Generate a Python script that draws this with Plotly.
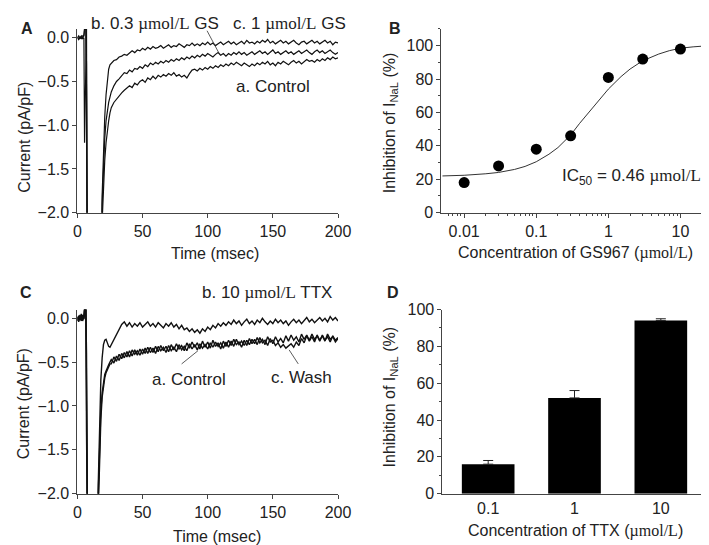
import plotly.graph_objects as go

# ---- Panel A: late Na current traces (GS967) ----
T_A_EARLY = [0, 1, 2, 3, 4, 5, 5.5, 6.5, 7, 7.5, 8, 12, 18, 19, 20, 21, 22, 23, 24, 25]
T_MAIN = list(range(26, 201, 2))

a_ctrl_early = [0.0, -0.02, 0.01, -0.01, 0.0, 0.02, 0.1, 0.1, -0.6, -3, -3, -3, -3, -2.1, -1.7, -1.4, -1.2, -1.05, -0.95, -0.86]
a_gs03_early = [0.01, -0.01, 0.0, 0.02, -0.01, 0.0, -1.2, 0.1, 0.1, -3, -3, -3, -3, -1.9, -1.5, -1.15, -0.95, -0.82, -0.74, -0.68]
a_gs1_early = [0.0, 0.02, -0.01, 0.01, 0.02, 0.03, 0.1, 0.1, -0.3, -3, -3, -3, -3, -1.8, -1.3, -0.9, -0.65, -0.45, -0.36, -0.31]

a_ctrl = [-0.80, -0.74, -0.70, -0.66, -0.63, -0.60, -0.58, -0.55, -0.57, -0.52, -0.54,
          -0.50, -0.48, -0.51, -0.46, -0.48, -0.44, -0.47, -0.43, -0.45, -0.42, -0.44,
          -0.41, -0.43, -0.40, -0.44, -0.42, -0.45, -0.43, -0.46, -0.41, -0.37, -0.36,
          -0.38, -0.35, -0.37, -0.34, -0.36, -0.33, -0.35, -0.32, -0.34, -0.31, -0.33,
          -0.30, -0.32, -0.29, -0.31, -0.28, -0.30, -0.32, -0.29, -0.31, -0.33, -0.30,
          -0.32, -0.29, -0.31, -0.28, -0.30, -0.27, -0.31, -0.29, -0.32, -0.28, -0.30,
          -0.27, -0.29, -0.31, -0.28, -0.26, -0.29, -0.27, -0.30, -0.28, -0.25, -0.27,
          -0.26, -0.28, -0.25, -0.27, -0.24, -0.26, -0.23, -0.25, -0.22, -0.24, -0.23]
a_gs03 = [-0.62, -0.55, -0.50, -0.47, -0.44, -0.40, -0.41, -0.37, -0.39, -0.35, -0.36,
          -0.33, -0.35, -0.31, -0.33, -0.29, -0.31, -0.28, -0.30, -0.27, -0.29, -0.26,
          -0.28, -0.25, -0.27, -0.24, -0.26, -0.23, -0.25, -0.22, -0.24, -0.21, -0.23,
          -0.20, -0.22, -0.19, -0.21, -0.18, -0.20, -0.22, -0.19, -0.17, -0.20, -0.18,
          -0.21, -0.18, -0.20, -0.17, -0.19, -0.16, -0.19, -0.17, -0.20, -0.18, -0.16,
          -0.19, -0.17, -0.15, -0.18, -0.16, -0.19, -0.17, -0.14, -0.18, -0.16, -0.19,
          -0.17, -0.15, -0.18, -0.16, -0.19, -0.17, -0.15, -0.18, -0.16, -0.14, -0.17,
          -0.19, -0.16, -0.14, -0.17, -0.15, -0.18, -0.16, -0.14, -0.17, -0.19, -0.17]
a_gs1 = [-0.29, -0.26, -0.25, -0.22, -0.21, -0.19, -0.20, -0.17, -0.15, -0.17, -0.14,
         -0.15, -0.12, -0.14, -0.11, -0.13, -0.10, -0.12, -0.11, -0.09, -0.12, -0.10,
         -0.08, -0.11, -0.09, -0.10, -0.07, -0.09, -0.11, -0.08, -0.09, -0.06, -0.09,
         -0.07, -0.09, -0.06, -0.08, -0.05, -0.08, -0.06, -0.09, -0.07, -0.05, -0.08,
         -0.06, -0.04, -0.07, -0.05, -0.08, -0.06, -0.04, -0.07, -0.03, -0.06, -0.05,
         -0.07, -0.04, -0.06, -0.03, -0.05, -0.02, -0.06, -0.04, -0.07, -0.05, -0.03,
         -0.06, -0.04, -0.07, -0.05, -0.03, -0.06, -0.08, -0.05, -0.04, -0.07, -0.05,
         -0.03, -0.06, -0.04, -0.07, -0.05, -0.03, -0.06, -0.04, -0.08, -0.05, -0.06]

# ---- Panel B: concentration-response for GS967 ----
gs_conc = [0.01, 0.03, 0.1, 0.3, 1, 3, 10]
gs_inhib = [18, 28, 38, 46, 81, 92, 98]
gs_err = [2, 2, 2, 2, 2, 3, 1.5]
fit_conc = [0.005, 0.01, 0.02, 0.03, 0.05, 0.07, 0.1, 0.15, 0.2, 0.3, 0.4, 0.5, 0.7, 1, 1.5, 2, 3, 5, 7, 10, 15, 20]
fit_inhib = [22.0, 22.4, 23.3, 24.1, 25.9, 27.7, 30.5, 35.0, 39.0, 46.5, 53.5, 58.5, 66.0, 74.0, 81.5, 86.0, 91.0, 95.0, 97.0, 98.5, 99.3, 99.7]

# ---- Panel C: late Na current traces (TTX) ----
T_C_EARLY = [0, 1, 2, 3, 4, 5, 5.5, 6.5, 7, 7.5, 8, 12, 15, 16, 17, 18, 19, 20, 21, 22, 23, 24, 25]

c_ttx_early = [0.02, -0.03, 0.04, -0.02, 0.03, 0.0, 0.1, 0.1, -0.4, -3, -3, -3, -3, -1.9, -1.2, -0.7, -0.45, -0.3, -0.25, -0.24, -0.28, -0.32, -0.33]
c_ctrl_early = [-0.03, 0.03, -0.02, 0.05, -0.03, 0.02, 0.1, 0.1, -1.3, -3, -3, -3, -3, -2.2, -1.6, -1.15, -0.9, -0.75, -0.68, -0.62, -0.58, -0.55, -0.52]
c_wash_early = [0.01, -0.04, 0.03, -0.03, 0.04, -0.01, 0.1, 0.1, -0.8, -3, -3, -3, -3, -2.0, -1.5, -1.05, -0.85, -0.72, -0.64, -0.6, -0.55, -0.53, -0.5]

c_ttx = [-0.30, -0.24, -0.18, -0.12, -0.07, -0.04, -0.09, -0.05, -0.10, -0.06, -0.09,
         -0.05, -0.10, -0.07, -0.04, -0.09, -0.06, -0.10, -0.05, -0.08, -0.11, -0.06,
         -0.09, -0.05, -0.10, -0.07, -0.12, -0.08, -0.13, -0.11, -0.15, -0.12, -0.16,
         -0.13, -0.17, -0.12, -0.15, -0.10, -0.13, -0.08, -0.11, -0.06, -0.09, -0.05,
         -0.08, -0.04, -0.07, -0.02, -0.06, -0.03, -0.08, -0.04, -0.01, -0.06, -0.03,
         -0.07, -0.02, -0.05, 0.00, -0.04, -0.07, -0.03, -0.06, -0.01, -0.05, -0.02,
         -0.06, -0.03, -0.08, -0.04, -0.01, -0.05, -0.02, -0.06, -0.03, 0.01, -0.04,
         -0.01, -0.05, -0.02, 0.01, -0.03, 0.00, -0.04, 0.02, -0.02, 0.01, -0.03]
c_ctrl = [-0.52, -0.44, -0.49, -0.41, -0.46, -0.39, -0.44, -0.37, -0.43, -0.36, -0.42,
          -0.35, -0.41, -0.34, -0.40, -0.33, -0.39, -0.32, -0.38, -0.31, -0.37, -0.32,
          -0.38, -0.30, -0.36, -0.29, -0.35, -0.31, -0.37, -0.28, -0.34, -0.27, -0.33,
          -0.28, -0.35, -0.26, -0.33, -0.27, -0.34, -0.25, -0.32, -0.28, -0.35, -0.26,
          -0.32, -0.25, -0.31, -0.24, -0.30, -0.27, -0.33, -0.25, -0.31, -0.23, -0.29,
          -0.24, -0.30, -0.22, -0.28, -0.25, -0.31, -0.23, -0.29, -0.21, -0.27, -0.23,
          -0.28, -0.20, -0.26, -0.19, -0.25, -0.21, -0.27, -0.18, -0.24, -0.19, -0.25,
          -0.18, -0.24, -0.20, -0.26, -0.19, -0.25, -0.21, -0.27, -0.20, -0.25, -0.22]
c_wash = [-0.47, -0.51, -0.43, -0.48, -0.40, -0.45, -0.38, -0.44, -0.36, -0.41, -0.37,
          -0.42, -0.35, -0.40, -0.33, -0.39, -0.34, -0.40, -0.32, -0.37, -0.33, -0.39,
          -0.31, -0.37, -0.33, -0.38, -0.30, -0.36, -0.32, -0.37, -0.29, -0.35, -0.30,
          -0.36, -0.29, -0.34, -0.30, -0.35, -0.28, -0.33, -0.27, -0.32, -0.28, -0.34,
          -0.27, -0.33, -0.26, -0.32, -0.24, -0.30, -0.26, -0.31, -0.25, -0.30, -0.24,
          -0.29, -0.22, -0.28, -0.24, -0.30, -0.21, -0.27, -0.25, -0.31, -0.28, -0.33,
          -0.30, -0.34, -0.31, -0.29, -0.33, -0.27, -0.31, -0.23, -0.28, -0.20, -0.26,
          -0.21, -0.27, -0.19, -0.25, -0.20, -0.26, -0.18, -0.24, -0.21, -0.27, -0.23]

# ---- Panel D: TTX bars ----
ttx_conc = ["0.1", "1", "10"]
ttx_inhib = [16, 52, 94]
ttx_err = [2, 4, 1]

FONT = "Liberation Sans, Arial, sans-serif"
SERIF = "font-family:Liberation Serif"
UMOL = f"<span style='{SERIF}'>µmol/L</span>"
AX = "#444"
TXT = "#222"
FS = 16

fig = go.Figure()

trace_line = dict(color="#111", width=1.2)
for early, main in [(a_ctrl_early, a_ctrl), (a_gs03_early, a_gs03), (a_gs1_early, a_gs1)]:
    fig.add_trace(go.Scatter(x=T_A_EARLY + T_MAIN, y=early + main, mode="lines",
                             line=trace_line, xaxis="x", yaxis="y", showlegend=False))

fig.add_trace(go.Scatter(x=fit_conc, y=fit_inhib, mode="lines", line=dict(color="#333", width=1),
                         xaxis="x2", yaxis="y2", showlegend=False))
fig.add_trace(go.Scatter(x=gs_conc, y=gs_inhib, mode="markers",
                         marker=dict(color="black", size=11),
                         error_y=dict(type="data", array=gs_err, color="#222", thickness=1, width=0),
                         xaxis="x2", yaxis="y2", showlegend=False))

for early, main in [(c_ctrl_early, c_ctrl), (c_wash_early, c_wash), (c_ttx_early, c_ttx)]:
    fig.add_trace(go.Scatter(x=T_C_EARLY + T_MAIN, y=early + main, mode="lines",
                             line=dict(color="#111", width=1.4), xaxis="x3", yaxis="y3", showlegend=False))

fig.add_trace(go.Bar(x=ttx_conc, y=ttx_inhib, width=0.61, marker=dict(color="black", line=dict(width=0)),
                     error_y=dict(type="data", array=ttx_err, symmetric=False, arrayminus=[0, 0, 0],
                                  color="#222", thickness=1, width=5),
                     xaxis="x4", yaxis="y4", showlegend=False))

axis_common = dict(showline=True, linecolor=AX, linewidth=1, ticks="outside", ticklen=4,
                   tickcolor=AX, showgrid=False, zeroline=False,
                   tickfont=dict(family=FONT, size=FS, color=TXT))

top = [0.6275, 0.9754]
bot = [0.0954, 0.444]

fig.update_layout(
    width=709, height=545, margin=dict(l=0, r=0, t=0, b=0),
    paper_bgcolor="white", plot_bgcolor="white",
    font=dict(family=FONT, size=FS, color=TXT),
    xaxis=dict(axis_common, domain=[0.0945, 0.4711], range=[0, 200], tickvals=[0, 50, 100, 150, 200], anchor="y"),
    yaxis=dict(axis_common, domain=top, range=[-2, 0.1], tickvals=[0, -0.5, -1, -1.5, -2],
               tickformat=".1f", anchor="x"),
    xaxis2=dict(axis_common, domain=[0.6206, 0.9972], type="log", range=[-2.315, 1.30],
                tickvals=[0.01, 0.1, 1, 10], ticktext=["0.01", "0.1", "1", "10"], anchor="y2",
                minor=dict(ticks="outside", ticklen=2, tickcolor=AX, showgrid=False,
                           tickvals=[0.006, 0.007, 0.008, 0.009, 0.02, 0.03, 0.04, 0.05, 0.06, 0.07, 0.08, 0.09,
                                     0.2, 0.3, 0.4, 0.5, 0.6, 0.7, 0.8, 0.9, 2, 3, 4, 5, 6, 7, 8, 9, 20])),
    yaxis2=dict(axis_common, domain=top, range=[0, 110], tickvals=[0, 20, 40, 60, 80, 100], anchor="x2",
                minor=dict(ticks="outside", ticklen=2, tickcolor=AX, dtick=10, showgrid=False)),
    xaxis3=dict(axis_common, domain=[0.0945, 0.4711], range=[0, 200], tickvals=[0, 50, 100, 150, 200], anchor="y3"),
    yaxis3=dict(axis_common, domain=bot, range=[-2, 0.1], tickvals=[0, -0.5, -1, -1.5, -2],
                tickformat=".1f", anchor="x3"),
    xaxis4=dict(axis_common, domain=[0.622, 1.0], range=[-0.53, 2.5], ticks="", anchor="y4"),
    yaxis4=dict(axis_common, domain=bot, range=[0, 100], tickvals=[0, 20, 40, 60, 80, 100], anchor="x4",
                minor=dict(ticks="outside", ticklen=2, tickcolor=AX, dtick=10, showgrid=False)),
)

W, H = 709.0, 545.0


def txt(px, py, text, size=FS, angle=0, xanchor="center"):
    fig.add_annotation(x=px / W, y=1 - py / H, xref="paper", yref="paper", text=text, showarrow=False,
                       textangle=angle, xanchor=xanchor, yanchor="middle",
                       font=dict(family=FONT, size=size, color=TXT))


# panel letters
txt(15, 13, "<b>A</b>", 16)
txt(392, 13, "<b>B</b>", 16)
txt(14, 285, "<b>C</b>", 16)
txt(390, 285, "<b>D</b>", 16)

# axis titles
txt(12, 125, "Current (pA/pF)", angle=-90)
txt(208, 245, "Time (msec)")
txt(388, 110, "Inhibition of I<sub>NaL</sub> (%)", angle=-90)
txt(577, 245, f"Concentration of GS967 ({UMOL})")
txt(12, 400, "Current (pA/pF)", angle=-90)
txt(210, 537, "Time (msec)")
txt(388, 393, "Inhibition of I<sub>NaL</sub> (%)", angle=-90)
txt(577, 532, f"Concentration of TTX ({UMOL})")

# trace labels
txt(147, 8, f"b. 0.3 {UMOL} GS", 17)
txt(284, 8, f"c. 1 {UMOL} GS", 17)
txt(267, 73, "a. Control", 17)
txt(708, 166, f"IC<sub>50</sub> = 0.46 {UMOL}", 17, xanchor="right")
txt(330, 285, f"b. 10 {UMOL} TTX", 17, xanchor="right")
txt(181, 375, "a. Control", 17)
txt(297, 373, "c. Wash", 17)

# leader lines
lead = dict(color="#333", width=0.8)
fig.add_shape(type="line", xref="x", yref="y", x0=99.5, y0=0.08, x1=109.5, y1=-0.2, line=lead)
fig.add_shape(type="line", xref="x3", yref="y3", x0=80, y0=-0.52, x1=92.5, y1=-0.37, line=lead)
fig.add_shape(type="line", xref="x3", yref="y3", x0=169.5, y0=-0.52, x1=162.5, y1=-0.36, line=lead)

fig.write_html("out.html")
